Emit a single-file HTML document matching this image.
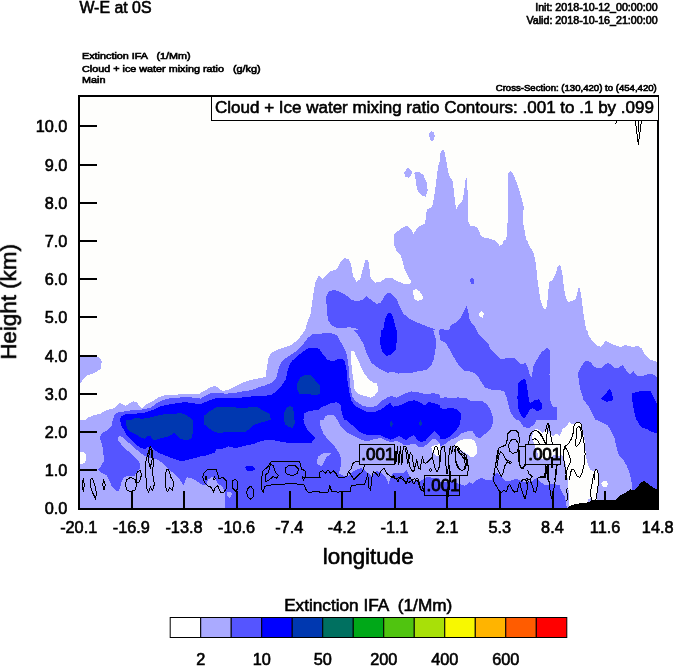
<!DOCTYPE html>
<html>
<head>
<meta charset="utf-8">
<title>W-E at 0S</title>
<style>
html,body{margin:0;padding:0;background:#fff;}
body{width:674px;height:667px;position:relative;overflow:hidden;font-family:"Liberation Sans",sans-serif;color:#000;}
svg{position:absolute;left:0;top:0;display:block;will-change:transform;}
svg text{font-family:"Liberation Sans",sans-serif;fill:#000;stroke:#000;stroke-width:0.6px;}
</style>
</head>
<body>
<svg width="674" height="667" viewBox="0 0 674 667">
<defs>
<clipPath id="pc"><rect x="80" y="97" width="577" height="411"/></clipPath>
<clipPath id="c0"><rect x="80" y="420" width="120" height="90"/></clipPath>
<clipPath id="c1"><rect x="200" y="420" width="120" height="90"/></clipPath>
<clipPath id="c2"><rect x="320" y="420" width="120" height="90"/></clipPath>
<clipPath id="c3"><rect x="440" y="420" width="120" height="90"/></clipPath>
<clipPath id="c4"><rect x="560" y="420" width="100" height="90"/></clipPath>
<clipPath id="c5"><rect x="80" y="330" width="120" height="90"/></clipPath>
<clipPath id="c6"><rect x="200" y="330" width="120" height="90"/></clipPath>
<clipPath id="c7"><rect x="320" y="330" width="120" height="90"/></clipPath>
<clipPath id="c8"><rect x="440" y="330" width="120" height="90"/></clipPath>
<clipPath id="c9"><rect x="560" y="330" width="100" height="90"/></clipPath>
<clipPath id="c10"><rect x="200" y="240" width="120" height="90"/></clipPath>
<clipPath id="c11"><rect x="320" y="240" width="120" height="90"/></clipPath>
<clipPath id="c12"><rect x="440" y="240" width="120" height="90"/></clipPath>
<clipPath id="c13"><rect x="560" y="240" width="100" height="90"/></clipPath>
<clipPath id="c14"><rect x="320" y="150" width="120" height="90"/></clipPath>
<clipPath id="c15"><rect x="440" y="150" width="120" height="90"/></clipPath>
<clipPath id="c16"><rect x="320" y="97" width="120" height="53"/></clipPath>
</defs>
<g id="fills" shape-rendering="crispEdges" clip-path="url(#pc)">
<rect x="80" y="97" width="578" height="412" fill="#fefefc"/>
<g clip-path="url(#c0)">
<rect x="80" y="420" width="120" height="90" fill="#aaaaff"/>
<polygon fill="#fefefc" points="79.1,452.0 83.6,452.4 85.9,454.7 86.2,458.3 85.0,462.7 81.8,464.0 79.1,463.6"/>
<polygon fill="#5555ff" points="112.9,419.1 111.7,426.2 106.7,430.7 102.3,432.8 99.6,436.9 101.7,443.1 103.1,450.3 104.0,460.9 101.0,465.9 97.8,469.8 101.4,472.9 106.7,475.5 109.4,480.5 112.0,486.8 115.6,490.3 118.3,491.2 120.1,487.7 121.8,480.5 124.5,477.0 129.0,475.5 134.3,476.1 137.0,472.0 139.6,469.3 140.5,465.4 137.9,460.1 133.4,455.6 127.2,450.3 121.8,444.9 118.3,440.5 117.7,437.4 120.1,436.0 123.6,437.8 128.1,442.3 133.4,446.7 138.8,451.7 144.1,455.6 151.2,458.3 156.6,459.5 161.0,461.8 166.3,467.2 172.6,472.5 177.9,477.0 181.5,482.3 183.3,485.5 185.0,481.4 186.8,477.3 191.3,477.9 195.7,480.5 201.1,483.7 201.1,419.1"/>
<polygon fill="#0000ff" points="120.1,419.1 120.9,425.3 124.5,430.7 127.2,436.0 131.6,440.5 135.2,444.0 140.5,447.6 145.0,449.4 148.5,446.7 151.2,446.3 153.9,449.4 158.3,452.9 165.5,455.6 172.6,458.3 181.5,461.3 188.6,459.5 195.7,457.7 201.1,456.5 201.1,419.1"/>
<polygon fill="#0038b0" points="126.6,419.1 125.9,423.6 127.2,428.9 131.6,432.5 137.0,435.1 141.4,437.8 145.0,438.7 147.7,436.0 150.3,435.7 152.1,438.7 154.8,440.5 159.2,438.7 162.8,437.8 167.2,436.9 170.8,435.1 174.4,432.5 177.0,436.0 180.6,439.2 186.8,439.9 191.3,439.2 192.5,434.2 193.0,427.1 193.0,419.1"/>
</g>
<g clip-path="url(#c1)">
<rect x="200" y="420" width="120" height="90" fill="#5555ff"/>
<polygon fill="#aaaaff" points="199.1,482.7 203.6,485.5 206.2,485.0 208.0,479.6 211.6,477.0 215.1,478.8 217.8,483.2 221.7,486.2 224.9,491.2 225.3,510.8 199.1,510.8"/>
<polygon fill="#aaaaff" points="226.7,492.1 231.2,492.1 232.0,494.8 229.4,498.0 226.7,495.7"/>
<polygon fill="#aaaaff" points="321.1,455.6 318.4,456.5 317.1,460.1 317.5,463.6 319.3,465.4 321.1,465.4"/>
<polygon fill="#0000ff" points="199.1,456.5 205.3,455.6 210.7,453.8 215.1,452.9 216.0,449.4 223.1,448.5 228.5,446.3 235.6,448.1 244.5,445.8 253.4,444.0 260.5,441.4 265.9,439.9 274.8,440.5 283.7,442.3 292.6,443.1 303.3,443.5 311.3,442.8 315.7,437.8 312.2,435.1 307.7,430.7 305.0,425.3 303.3,419.1 199.1,419.1"/>
<polygon fill="#0000ff" points="244.5,467.2 248.1,465.9 252.5,466.3 255.5,469.0 252.5,470.7 247.2,470.7"/>
<polygon fill="#0038b0" points="203.6,419.1 204.5,424.5 208.0,428.0 214.2,431.6 219.6,433.4 224.9,432.1 235.6,431.6 244.5,432.5 249.8,428.9 253.4,425.0 260.5,422.7 267.7,420.9 269.4,419.1"/>
<polygon fill="#0038b0" points="283.7,419.1 285.5,424.5 289.0,427.1 292.6,428.0 294.4,424.5 295.2,419.1"/>
</g>
<g clip-path="url(#c2)">
<rect x="320" y="420" width="120" height="90" fill="#5555ff"/>
<polygon fill="#aaaaff" points="318.0,422.0 322.0,418.0 327.4,414.4 334.0,414.0 337.4,417.4 338.7,422.7 342.0,428.0 347.4,432.7 354.0,436.0 360.7,439.4 367.4,441.4 373.4,439.5 380.5,438.0 385.9,440.5 391.2,442.0 396.5,441.0 400.0,442.3 404.7,445.3 409.5,444.7 414.2,443.5 419.0,447.0 423.7,446.5 428.5,443.5 432.6,438.7 435.6,438.7 440.4,443.5 441.0,444.0 441.0,478.7 426.8,477.0 424.1,478.7 419.7,481.4 412.6,480.5 409.0,475.2 406.3,469.8 402.8,473.4 398.3,472.5 393.0,473.4 390.3,478.7 388.5,484.0 385.9,477.0 381.4,473.4 377.0,470.7 371.6,476.0 365.4,470.7 361.8,468.0 355.6,469.8 351.2,473.4 346.7,477.0 338.7,473.4 340.7,466.8 341.4,460.0 340.0,454.7 336.7,449.4 332.7,444.0 327.4,438.7 323.4,433.4 320.7,426.7"/>
<polygon fill="#aaaaff" points="317.3,458.8 320.7,454.7 324.7,452.7 330.7,453.4 328.7,455.4 326.0,457.4 324.0,462.8 322.0,465.4 319.3,466.1 317.3,462.8"/>
<polygon fill="#fefefc" points="431.3,447.1 434.8,444.9 441.1,444.0 441.1,456.5 435.7,455.6 432.2,452.0"/>
<polygon fill="#0000ff" points="344.9,419.1 349.9,423.4 355.4,427.5 359.5,431.8 364.7,434.2 370.0,435.3 375.2,435.3 380.5,435.0 385.0,437.4 390.3,439.6 394.8,438.2 398.3,436.4 399.9,436.4 406.0,440.5 409.5,436.9 414.2,435.1 417.7,440.5 421.3,442.3 425.6,440.5 429.7,435.8 434.5,430.5 438.0,434.1 441.6,438.2 441.6,419.1"/>
<polygon fill="#0038b0" points="391.2,421.0 392.8,423.0 392.2,426.5 390.5,426.5 389.8,423.5"/>
<polygon fill="#0038b0" points="420.4,420.0 422.0,422.5 421.4,425.5 419.6,425.5 419.0,422.5"/>
</g>
<g clip-path="url(#c3)">
<rect x="440" y="420" width="120" height="90" fill="#aaaaff"/>
<polygon fill="#5555ff" points="439.1,447.1 445.3,444.0 450.7,439.6 456.0,437.8 461.4,433.4 466.7,431.6 472.0,430.7 475.6,436.0 480.1,438.7 483.6,435.1 487.2,432.5 490.7,428.9 492.5,423.6 493.4,419.1 439.1,419.1"/>
<polygon fill="#5555ff" points="518.3,419.1 523.7,427.1 529.0,428.0 534.4,424.5 537.0,419.1"/>
<polygon fill="#0000ff" points="439.1,419.1 460.5,419.1 459.6,425.3 456.0,430.7 450.7,436.0 445.3,438.7 439.1,439.6"/>
<polygon fill="#fefefc" points="454.6,444.6 457.8,441.4 462.3,439.6 468.5,438.9 473.5,439.9 476.1,444.0 477.4,449.4 476.5,453.8 473.8,456.5 470.6,457.0 466.7,453.8 461.4,450.3 456.9,449.4"/>
<polygon fill="#fefefc" points="531.7,438.5 532.5,434.7 534.0,430.2 536.2,428.4 538.5,429.5 540.7,431.7 543.0,433.2 544.5,431.0 546.7,430.2 549.0,432.5 550.9,434.7 552.7,436.2 555.0,434.4 557.2,433.6 559.7,436.5 561.2,432.5 562.7,428.7 565.0,427.2 567.2,425.0 569.7,422.1 572.0,423.9 574.7,424.5 577.0,422.8 580.0,422.5 582.2,429.0 584.5,440.0 585.2,447.5 586.0,455.0 586.7,460.2 588.2,465.5 590.5,470.0 593.5,471.5 595.0,470.0 596.5,469.2 598.0,471.5 598.7,478.0 598.5,485.0 597.6,491.2 596.7,500.0 590.0,503.0 577.0,504.5 570.0,507.0 569.0,506.0 568.8,500.0 568.5,490.0 568.0,480.0 566.9,475.0 566.1,467.0 565.0,461.0 563.5,457.2 561.2,455.0 557.5,456.5 555.7,455.0 553.5,455.0 550.5,458.0 547.5,458.7 544.5,458.0 542.2,459.5 540.0,458.0 538.5,456.5 537.7,453.5 537.0,450.5 535.5,447.5 534.7,444.5 533.2,441.5"/>
<polygon fill="#5555ff" points="439.1,481.4 447.1,482.3 454.2,481.4 459.6,484.1 464.9,485.9 469.4,482.3 472.9,484.1 477.4,479.6 481.8,477.9 486.3,480.5 491.6,479.6 493.4,475.2 497.0,472.5 501.4,477.0 505.9,481.4 511.2,480.5 516.6,478.8 521.9,481.4 527.2,482.3 532.6,480.5 537.0,477.9 539.7,481.4 545.0,485.0 552.2,484.1 561.1,485.0 561.1,510.8 439.1,510.8"/>
</g>
<g clip-path="url(#c4)">
<rect x="560" y="420" width="100" height="90" fill="#aaaaff"/>
<polygon fill="#fefefc" points="531.7,438.5 532.5,434.7 534.0,430.2 536.2,428.4 538.5,429.5 540.7,431.7 543.0,433.2 544.5,431.0 546.7,430.2 549.0,432.5 550.9,434.7 552.7,436.2 555.0,434.4 557.2,433.6 559.7,436.5 561.2,432.5 562.7,428.7 565.0,427.2 567.2,425.0 569.7,422.1 572.0,423.9 574.7,424.5 577.0,422.8 580.0,422.5 582.2,429.0 584.5,440.0 585.2,447.5 586.0,455.0 586.7,460.2 588.2,465.5 590.5,470.0 593.5,471.5 595.0,470.0 596.5,469.2 598.0,471.5 598.7,478.0 598.5,485.0 597.6,491.2 596.7,500.0 590.0,503.0 577.0,504.5 570.0,507.0 569.0,506.0 568.8,500.0 568.5,490.0 568.0,480.0 566.9,475.0 566.1,467.0 565.0,461.0 563.5,457.2 561.2,455.0 557.5,456.5 555.7,455.0 553.5,455.0 550.5,458.0 547.5,458.7 544.5,458.0 542.2,459.5 540.0,458.0 538.5,456.5 537.7,453.5 537.0,450.5 535.5,447.5 534.7,444.5 533.2,441.5"/>
<polygon fill="#fefefc" points="601.2,483.2 603.8,480.9 606.5,481.4 608.3,484.1 606.5,486.8 603.0,486.8"/>
<polygon fill="#aaaaff" points="587.0,502.8 588.5,499.5 591.0,498.0 591.5,501.5 589.0,503.5"/>
<polygon fill="#5555ff" points="595.8,419.1 602.1,422.7 607.4,425.3 611.0,430.7 614.5,437.8 616.3,446.7 619.0,455.6 623.4,460.1 627.0,466.3 629.7,473.4 631.4,480.5 632.3,489.4 632.3,494.8 660.8,494.8 660.8,419.1"/>
<polygon fill="#0000ff" points="636.8,419.1 639.5,424.5 642.1,428.0 646.6,428.9 651.0,431.6 656.4,433.4 660.8,433.4 660.8,419.1"/>
<polygon fill="#5555ff" points="553.1,480.5 557.6,484.1 561.1,490.3 564.7,496.6 566.1,501.9 566.8,508.1 553.1,509.0"/>
<polygon fill="#000000" points="564.7,509.0 567.4,507.6 571.8,505.1 577.1,503.7 586.0,502.8 594.9,500.1 602.1,500.1 615.4,499.8 620.8,494.8 625.2,493.0 630.6,489.4 634.1,490.3 637.7,486.8 641.2,482.3 643.9,480.9 647.5,483.2 651.9,486.8 657.3,489.4 660.8,490.3 660.8,510.8 564.7,510.8"/>
<polygon fill="#000000" points="603.7,491.2 605.8,491.2 605.8,500.5 603.7,500.5"/>
</g>
<g clip-path="url(#c5)">
<rect x="80" y="330" width="120" height="90" fill="#fefefc"/>
<polygon fill="#aaaaff" points="79.1,354.9 80.0,356.7 96.9,356.7 100.5,358.5 101.7,361.2 101.0,368.3 96.9,371.8 92.5,373.6 87.1,375.4 83.6,379.0 80.0,383.4 79.1,383.4"/>
<polygon fill="#aaaaff" points="85.3,419.9 88.9,417.2 94.2,415.1 100.5,413.7 104.9,411.0 109.4,409.2 113.8,408.3 116.5,405.7 119.5,403.0 122.7,404.4 125.9,405.7 129.8,403.0 133.4,401.2 137.0,402.6 139.6,406.6 142.3,408.3 146.8,403.9 153.0,401.2 158.3,397.3 163.7,395.5 172.6,395.0 181.5,394.1 190.4,393.7 201.1,394.1 201.1,420.8 85.3,420.8"/>
<polygon fill="#5555ff" points="112.9,419.9 114.7,414.6 118.3,412.3 124.5,411.5 131.6,410.1 138.8,410.1 144.1,409.2 151.2,407.4 156.6,403.3 161.9,400.3 169.0,398.5 177.9,397.7 186.8,396.8 193.9,397.7 201.1,398.5 201.1,420.8 112.9,420.8"/>
<polygon fill="#0000ff" points="120.1,419.9 120.9,416.3 126.3,414.0 133.4,413.7 140.5,413.3 145.9,412.3 153.0,409.8 160.1,406.6 167.2,404.8 176.1,403.3 185.0,402.1 193.9,403.3 201.1,404.8 201.1,420.8 120.1,420.8"/>
<polygon fill="#0038b0" points="131.6,419.9 135.2,418.1 142.3,418.7 147.7,418.1 154.8,416.3 161.9,414.6 172.6,413.7 181.5,413.3 186.8,415.1 190.4,418.1 192.2,419.9 192.2,420.8 131.6,420.8"/>
</g>
<g clip-path="url(#c6)">
<rect x="200" y="330" width="120" height="90" fill="#fefefc"/>
<polygon fill="#aaaaff" points="199.1,393.7 205.3,390.5 210.7,387.0 215.1,386.1 218.7,387.9 222.3,391.1 228.5,389.6 235.6,386.1 242.7,382.5 251.6,379.8 260.5,378.1 265.9,376.6 266.8,367.4 268.5,358.5 271.2,353.1 276.6,349.9 283.7,347.8 290.8,345.1 297.0,340.7 301.5,335.3 304.1,330.9 306.8,329.1 321.1,329.1 321.1,420.8 199.1,420.8"/>
<polygon fill="#5555ff" points="199.1,399.4 205.3,395.9 210.7,393.2 217.8,392.7 224.9,393.7 233.8,393.2 242.7,391.4 251.6,390.2 258.8,387.3 265.9,385.2 273.0,382.0 276.6,377.2 278.3,369.2 281.0,362.9 285.5,358.5 290.8,354.9 297.0,350.5 303.3,344.2 307.7,338.0 312.2,334.5 321.1,333.6 321.1,420.8 199.1,420.8"/>
<polygon fill="#0000ff" points="199.1,404.8 205.3,402.1 212.5,399.1 219.6,397.7 226.7,398.5 235.6,398.0 244.5,397.3 253.4,396.2 262.3,396.2 271.2,395.0 276.6,391.4 281.9,385.2 285.5,379.8 287.2,372.7 289.0,365.6 292.6,360.3 297.9,355.8 303.3,351.4 308.6,348.2 315.7,347.8 321.1,349.2 321.1,420.8 199.1,420.8"/>
<polygon fill="#0038b0" points="203.6,420.8 204.5,415.5 208.9,411.9 216.0,407.4 223.1,406.9 232.0,406.6 238.3,408.0 244.5,408.3 251.6,406.6 257.0,406.9 262.3,410.1 269.4,413.7 271.2,420.8"/>
<polygon fill="#0038b0" points="297.0,388.8 297.6,382.5 300.6,377.2 305.0,374.9 311.3,375.4 314.8,379.8 317.5,383.4 321.1,387.0 321.1,394.1 313.9,395.0 306.8,393.7 299.7,394.1"/>
<polygon fill="#0038b0" points="283.7,420.8 284.0,413.7 286.3,408.3 289.9,405.7 292.6,407.4 294.4,413.7 293.5,420.8"/>
<polygon fill="#5555ff" points="303.3,420.8 304.1,413.7 308.6,411.0 315.7,410.1 321.1,409.2 321.1,420.8"/>
</g>
<g clip-path="url(#c7)">
<rect x="320" y="330" width="120" height="90" fill="#aaaaff"/>
<polygon fill="#5555ff" points="352.9,329.1 358.3,335.3 363.6,344.2 367.2,354.9 371.6,362.9 378.8,368.3 387.7,372.7 393.0,371.8 398.3,373.6 405.5,372.7 412.6,372.7 419.7,370.9 426.8,370.1 431.3,365.6 433.9,358.5 435.7,347.8 435.7,338.9 433.0,329.1"/>
<polygon fill="#5555ff" points="438.4,329.1 438.9,333.6 441.1,337.5 441.1,329.1"/>
<polygon fill="#fefefc" points="351.2,351.4 353.8,351.0 356.5,356.7 360.1,364.7 364.5,373.6 369.0,379.8 373.4,382.5 377.0,383.4 378.4,390.5 374.3,395.9 370.7,397.7 364.5,395.9 358.3,394.1 354.7,390.5 353.8,381.6 352.0,370.9 351.2,360.3"/>
<polygon fill="#5555ff" points="319.1,333.9 327.1,332.7 334.2,333.9 337.8,336.2 339.9,340.7 343.1,346.0 345.8,351.4 347.1,356.7 348.5,365.6 349.4,376.3 350.3,387.0 352.0,395.9 355.6,401.2 362.7,405.7 369.8,407.4 377.0,405.7 381.4,401.2 386.8,397.7 391.2,395.9 396.6,397.7 403.7,394.1 410.8,391.4 417.9,392.3 425.0,394.1 433.9,393.2 441.1,395.0 441.1,420.8 319.1,420.8"/>
<polygon fill="#0000ff" points="319.1,349.6 323.6,354.9 327.1,359.4 332.5,361.2 337.8,359.4 342.3,358.5 344.9,362.0 346.7,370.9 347.6,381.6 349.4,392.3 351.2,400.3 354.7,405.7 360.9,409.2 368.1,412.3 375.2,411.9 381.4,409.2 385.9,405.7 390.3,403.0 393.0,406.6 398.3,405.7 403.7,403.9 409.0,401.2 414.4,400.3 419.7,402.1 425.0,405.7 428.6,402.1 433.9,403.0 441.1,405.7 441.1,420.8 319.1,420.8"/>
<polygon fill="#5555ff" points="319.1,408.3 325.3,405.7 331.6,403.0 336.9,402.1 340.5,404.8 341.4,410.1 343.1,417.2 344.9,420.8 319.1,420.8"/>
<polygon fill="#aaaaff" points="323.6,420.8 325.3,416.3 329.8,414.6 334.2,415.5 337.8,420.8"/>
<polygon fill="#0000ff" points="381.4,329.1 380.5,337.1 380.2,344.2 382.3,351.4 386.8,355.8 392.1,354.0 395.7,349.6 396.9,340.7 397.4,329.1"/>
</g>
<g clip-path="url(#c8)">
<rect x="440" y="330" width="120" height="90" fill="#aaaaff"/>
<polygon fill="#5555ff" points="439.1,329.1 476.5,329.1 478.3,333.6 483.6,338.9 488.1,343.4 490.7,349.6 495.2,354.0 501.4,359.4 507.7,357.6 513.9,357.6 517.4,361.2 521.0,364.7 525.5,362.9 528.1,368.3 529.9,375.4 531.7,377.2 533.5,365.6 537.0,359.4 541.5,352.3 546.8,347.8 550.4,350.5 550.0,360.3 549.5,374.5 549.5,388.8 550.4,401.2 553.0,406.6 556.6,406.6 557.5,413.7 556.6,420.8 516.6,420.8 513.9,417.2 510.3,411.9 508.5,404.8 506.8,397.7 504.1,391.4 498.8,389.6 491.6,389.6 485.4,387.9 480.9,381.6 477.4,375.4 472.0,371.8 464.9,370.9 459.6,366.5 455.1,359.4 450.7,351.4 447.1,345.1 443.6,341.6 439.1,339.8"/>
<polygon fill="#5555ff" points="439.1,398.5 445.3,397.3 452.5,398.5 457.8,397.3 466.7,398.5 471.2,401.2 482.7,401.2 487.2,404.8 490.7,410.1 492.5,415.5 493.1,420.8 439.1,420.8"/>
<polygon fill="#0000ff" points="518.3,383.4 521.9,379.8 525.1,379.0 526.9,385.2 528.1,394.1 529.0,401.2 530.8,403.0 534.4,400.3 538.8,399.4 541.5,403.0 541.5,409.2 537.9,411.5 532.6,408.3 529.9,409.2 527.2,414.6 523.7,418.7 521.0,415.5 518.3,408.3 517.4,397.7"/>
<polygon fill="#0000ff" points="439.1,408.3 445.3,408.7 452.5,408.0 456.9,409.2 460.5,412.8 461.4,417.2 461.0,420.8 439.1,420.8"/>
</g>
<g clip-path="url(#c9)">
<rect x="560" y="330" width="100" height="90" fill="#aaaaff"/>
<polygon fill="#fefefc" points="586.9,329.1 588.7,335.3 592.3,340.7 597.6,346.0 601.2,346.9 605.6,340.7 609.2,342.5 614.5,345.1 620.8,346.9 625.2,345.1 632.3,346.9 637.7,346.0 642.1,348.7 644.8,354.9 650.1,359.4 657.3,362.0 660.8,362.0 660.8,329.1"/>
<polygon fill="#5555ff" points="578.0,372.7 581.6,365.6 586.0,360.6 590.5,362.0 594.1,366.5 597.6,368.3 602.1,367.4 607.4,362.9 611.0,364.7 614.5,368.3 618.1,368.3 622.5,364.7 626.1,370.1 629.7,374.5 633.2,370.9 636.8,375.4 641.2,376.3 646.6,374.5 651.9,373.6 657.3,377.2 660.8,378.1 660.8,420.8 595.8,420.8 592.3,413.7 588.7,406.6 583.4,399.4 580.7,390.5 578.9,381.6"/>
<polygon fill="#5555ff" points="553.1,405.7 556.7,405.7 556.7,415.5 553.1,415.5"/>
<polygon fill="#0000ff" points="601.2,398.5 605.6,394.1 609.2,388.8 611.3,391.4 612.8,396.8 612.4,401.2 606.5,401.6 603.0,400.3"/>
<polygon fill="#0000ff" points="632.3,393.2 639.5,391.4 646.6,390.9 651.0,391.4 653.7,397.7 657.3,404.8 660.8,408.3 660.8,420.8 636.8,420.8 634.1,411.9 632.3,401.2"/>
</g>
<g clip-path="url(#c10)">
<rect x="200" y="240" width="120" height="90" fill="#fefefc"/>
<polygon fill="#aaaaff" points="305.0,330.8 306.8,323.7 310.4,314.8 312.2,302.3 313.9,289.8 315.7,280.9 318.4,276.5 321.1,275.6 321.1,330.8"/>
</g>
<g clip-path="url(#c11)">
<rect x="320" y="240" width="120" height="90" fill="#fefefc"/>
<polygon fill="#aaaaff" points="319.1,275.6 322.7,279.2 327.1,274.7 329.8,271.2 336.9,269.4 340.5,262.3 344.0,258.3 348.5,258.7 351.2,264.9 352.9,275.6 356.5,281.8 360.1,279.2 362.7,269.4 365.4,260.5 368.1,259.6 369.5,268.5 370.7,278.3 375.2,282.7 380.5,281.8 385.9,277.7 391.2,277.7 396.6,280.9 403.7,283.6 409.9,284.2 411.7,281.8 408.1,276.5 404.6,269.4 402.8,261.4 401.0,256.0 396.6,251.6 394.4,245.3 393.9,239.1 441.1,239.1 441.1,330.8 319.1,330.8"/>
<polygon fill="#fefefc" points="412.9,290.7 416.1,289.0 419.7,291.6 422.9,296.1 422.4,299.6 417.9,300.9 414.0,298.8"/>
<polygon fill="#5555ff" points="326.2,297.0 328.9,291.6 333.4,289.8 338.7,291.3 344.9,294.3 351.2,299.6 357.4,301.4 362.7,299.6 366.6,296.1 370.7,299.6 376.1,303.7 380.5,303.2 384.1,297.0 387.7,292.5 391.2,293.4 396.6,299.6 400.1,306.8 403.7,313.9 409.0,318.3 417.9,322.8 426.8,326.3 433.9,329.0 437.5,330.8 360.9,330.8 355.6,328.1 348.5,327.2 343.1,328.1 337.8,328.5 331.6,325.5 328.0,320.1 326.8,311.2"/>
<polygon fill="#0000ff" points="383.2,330.8 384.1,323.7 385.9,316.6 388.5,312.6 391.2,313.0 393.3,318.3 395.1,325.5 396.2,330.8"/>
</g>
<g clip-path="url(#c12)">
<rect x="440" y="240" width="120" height="90" fill="#aaaaff"/>
<polygon fill="#fefefc" points="493.4,239.1 496.1,241.8 499.6,245.7 502.3,244.5 504.4,239.1"/>
<polygon fill="#fefefc" points="526.9,239.1 529.0,245.3 533.5,252.5 535.8,263.1 537.0,275.6 538.8,289.8 540.6,300.5 543.3,307.7 545.0,309.8 546.8,305.9 548.2,293.4 549.0,282.7 552.2,280.1 555.7,273.8 557.5,266.7 561.1,264.0 561.1,239.1"/>
<polygon fill="#fefefc" points="478.3,313.9 481.8,310.9 484.2,313.3 482.7,318.0 480.1,316.9"/>
<polygon fill="#5555ff" points="469.9,280.1 471.7,277.7 473.8,278.8 473.5,283.6 471.2,284.5"/>
<polygon fill="#5555ff" points="448.9,330.8 450.7,325.5 456.0,322.3 460.5,318.3 464.0,311.2 466.3,305.9 468.1,310.3 469.4,318.3 472.0,323.7 475.6,327.6 476.5,330.8"/>
<polygon fill="#5555ff" points="439.1,328.7 443.6,328.7 443.6,330.8 439.1,330.8"/>
</g>
<g clip-path="url(#c13)">
<rect x="560" y="240" width="100" height="90" fill="#fefefc"/>
<polygon fill="#aaaaff" points="553.1,278.3 555.8,273.8 558.5,266.7 560.2,265.3 562.0,271.2 563.8,286.3 565.6,297.0 568.2,302.3 571.8,300.9 575.4,299.6 577.1,293.4 578.6,287.2 579.8,288.1 581.6,298.8 583.4,313.0 585.2,323.7 586.4,330.8 553.1,330.8"/>
</g>
<g clip-path="url(#c14)">
<rect x="320" y="150" width="120" height="90" fill="#fefefc"/>
<polygon fill="#aaaaff" points="404.0,173.1 407.2,167.8 409.9,168.7 412.6,173.1 409.0,177.6 405.5,177.1"/>
<polygon fill="#aaaaff" points="414.0,172.8 418.8,171.7 423.3,174.9 426.5,182.0 427.7,190.1 425.9,196.6 422.9,196.3 417.9,191.8 416.1,183.8 415.2,176.7"/>
<polygon fill="#aaaaff" points="393.9,240.8 394.4,233.7 399.2,230.1 403.7,226.6 408.1,226.2 410.8,229.2 413.5,233.7 417.0,228.3 420.6,225.7 424.7,223.9 425.9,217.7 426.8,209.6 432.2,207.0 433.9,198.1 435.7,185.6 437.5,171.4 438.9,162.5 441.1,160.7 441.1,240.8"/>
</g>
<g clip-path="url(#c15)">
<rect x="440" y="150" width="120" height="90" fill="#fefefc"/>
<polygon fill="#aaaaff" points="439.1,155.3 441.8,150.9 443.6,149.1 445.3,155.3 447.1,166.0 448.9,174.9 452.5,181.2 453.9,190.9 455.1,203.4 456.4,208.8 458.7,205.2 462.3,200.7 464.0,192.7 465.3,180.3 466.7,178.1 467.6,190.9 468.1,221.2 470.3,225.7 475.6,226.6 478.3,229.2 480.9,235.5 484.5,238.1 491.6,238.7 493.4,240.8 439.1,240.8"/>
<polygon fill="#aaaaff" points="505.9,240.8 507.3,231.9 508.0,203.4 508.2,173.1 510.3,171.0 513.0,174.0 516.6,182.0 519.2,190.1 521.9,199.8 523.7,207.0 522.8,221.2 524.6,230.1 526.3,240.8"/>
</g>
<g clip-path="url(#c16)">
<rect x="320" y="97" width="120" height="53" fill="#fefefc"/>
<polygon fill="#aaaaff" points="429.0,134.0 431.0,131.0 433.5,132.0 434.8,136.0 434.0,140.0 432.0,141.5 430.0,139.0"/>
</g>
</g>
<g id="lines" clip-path="url(#pc)" fill="none" stroke="#000" stroke-width="1" stroke-linejoin="round" shape-rendering="crispEdges">
<path d="M83.2 478.8 L82.1 484.1 L83.2 491.2 L84.3 485.0 Z"/>
<path d="M91.0 478.8 L90.3 485.9 L92.8 493.0 L95.7 499.2 L96.4 493.0 L94.6 484.1 L92.5 478.8 Z"/>
<path d="M103.7 479.6 L102.6 485.0 L104.0 489.8 L105.3 485.0 Z"/>
<path d="M126.6 479.6 L130.7 477.3 L135.2 479.6 L136.6 485.0 L134.8 490.3 L130.7 491.6 L126.6 489.8 L125.4 484.4 Z"/>
<path d="M137.3 471.6 L140.5 470.7 L141.4 475.2 L139.6 481.4 L137.0 483.2 L136.1 477.9 Z"/>
<path d="M147.3 455.6 L150.3 446.7 L152.6 451.2 L153.3 462.7 L152.6 473.4 L154.4 484.1 L152.6 490.3 L150.3 486.8 L148.5 492.1 L146.2 486.8 L145.9 473.4 L145.5 462.7 Z"/>
<path d="M149.4 450.3 L148.5 460.9 L150.3 468.1 L152.1 459.2 L151.2 449.4 Z"/>
<path d="M166.3 469.8 L168.7 469.8 L170.8 477.0 L173.5 482.3 L172.6 490.3 L169.9 487.7 L167.2 492.1 L165.5 485.9 L165.5 477.0 Z"/>
<path d="M203.6 473.4 L207.1 469.8 L216.0 469.5 L217.8 473.4 L218.7 478.8 L223.1 477.3 L226.7 481.4 L226.7 487.7 L224.0 492.1 L220.5 492.1 L217.8 485.9 L215.1 487.7 L213.4 492.1 L210.7 486.8 L208.0 485.9 L204.5 482.3 L202.7 477.0 Z"/>
<path d="M205.7 476.1 L205.3 479.6 L206.8 479.6 L206.4 476.1 Z"/>
<path d="M214.2 476.1 L213.9 479.6 L215.3 478.8 Z"/>
<path d="M232.9 480.5 L235.6 479.1 L237.7 482.3 L237.7 488.5 L235.6 491.2 L232.9 488.5 L232.0 484.1 Z"/>
<path d="M247.7 488.5 L250.7 486.2 L253.4 489.4 L253.4 496.6 L250.7 499.2 L247.7 496.6 L246.6 492.1 Z"/>
<path d="M263.2 470.7 L268.5 466.3 L271.2 461.3 L299.7 461.3 L301.5 469.0 L305.0 470.7 L305.9 475.2 L303.3 480.5 L302.4 477.0 L306.8 477.9 L312.2 477.0 L321.1 477.0"/>
<path d="M321.1 492.1 L313.9 491.6 L308.6 492.6 L305.9 489.4 L304.1 485.0 L298.8 484.1 L289.0 483.7 L280.1 484.4 L271.2 485.0 L265.0 486.2 L263.2 492.1 L261.4 489.4 L261.4 480.5 L262.3 473.4 L263.2 470.7"/>
<path d="M270.3 464.5 L273.0 465.4 L275.7 472.5 L278.3 475.2 L276.6 478.4 L273.0 476.6 L268.5 480.5 L265.9 481.4 L265.0 475.2 L268.5 472.5 L269.4 468.1 Z"/>
<path d="M285.5 468.1 L289.0 465.4 L295.2 465.4 L298.3 469.0 L297.6 473.4 L292.6 475.5 L287.2 474.3 L285.1 471.6 Z"/>
<path d="M319.1 477.3 L320.0 471.6 L322.7 470.7 L325.3 473.4 L328.0 469.8 L330.7 473.4 L333.4 470.7 L336.0 473.4 L337.8 477.0 L343.1 477.3 L346.7 476.6 L348.5 471.6 L351.2 469.0 L352.9 463.6 L355.6 461.3 L359.5 461.3"/>
<path d="M319.1 492.1 L328.0 492.1 L329.8 485.9 L331.6 491.2 L337.8 492.1 L350.3 491.2 L351.2 485.9 L355.6 485.0 L364.5 484.4 L366.6 478.8 L367.7 473.4 L369.0 487.7 L370.7 490.3 L371.6 478.8 L373.4 471.6 L376.1 473.4 L378.8 477.0 L380.5 471.6 L384.1 468.1 L386.8 473.4 L391.2 477.0 L396.6 478.8 L399.2 477.0 L403.7 480.5 L409.0 482.3 L414.4 478.8 L417.9 481.4 L420.6 489.4 L423.3 491.2 L425.0 484.1"/>
<path d="M348.5 471.6 L351.2 475.2 L353.8 479.6 L356.5 477.0 L360.1 473.4 L362.7 471.6 L363.6 468.1 L365.4 464.5"/>
<path d="M359.5 444.5 L394.5 444.5 L394.5 464.5 L359.5 464.5 Z"/>
<path d="M424.5 475.5 L459.5 475.5 L459.5 495.5 L424.5 495.5 Z"/>
<path d="M525.5 444.5 L560.5 444.5 L560.5 464.5 L525.5 464.5 Z"/>
<path d="M394.7 446.9 L395.9 463.5 L397.4 446.9 L398.9 464.7 L400.4 446.9 L401.9 464.7 L403.3 446.3 L406.0 446.9 L407.8 452.8 L409.6 465.9 L412.0 470.6 L413.7 471.8 L415.5 464.7 L416.7 459.9 L418.5 468.2 L420.3 469.4 L421.5 461.1 L422.6 457.0 L423.8 462.3 L425.6 463.5 L429.2 460.5 L432.1 457.6 L433.3 451.6 L435.1 446.9 L436.9 446.3 L438.7 452.8 L439.9 462.3 L438.7 469.4 L436.9 471.8 L435.1 468.2 L433.3 461.1 L432.1 457.6"/>
<path d="M440.4 462.3 L441.0 450.4 L442.2 446.9 L444.0 446.3 L445.2 452.8 L445.8 464.7 L447.0 474.2 L448.2 468.2 L448.8 458.7 L449.3 450.4 L450.5 446.9 L451.7 454.0 L452.9 446.3 L454.7 445.7 L457.1 448.1 L458.8 452.8 L461.2 455.2 L464.2 458.7 L465.4 464.7 L464.2 469.4 L462.4 470.6 L460.0 469.4 L457.7 465.9 L455.9 461.1 L455.3 455.2 L454.7 449.2"/>
<path d="M458.2 446.9 L461.2 451.6 L466.0 455.2 L467.7 461.1 L468.3 469.4 L467.2 475.4 L459.1 475.9"/>
<path d="M430.4 468.5 L431.5 470.0 L430.4 471.6 L429.2 470.0 Z"/>
<path d="M390.0 476.5 L393.6 475.9 L395.9 478.9 L398.3 481.9 L399.5 477.1 L401.9 476.5 L404.2 480.1 L406.0 483.7 L407.8 478.9 L410.2 477.7 L412.6 482.5 L414.3 483.7 L416.1 478.9 L417.9 478.3 L419.7 484.9 L421.5 490.8 L422.6 487.2 L424.4 482.5"/>
<path d="M449.1 464.7 L449.7 476.5 L449.1 488.4 L448.5 496.7"/>
<path d="M449.7 464.7 L450.3 476.5 L449.7 488.4"/>
<path d="M405.4 448.1 L406.6 456.4 L407.8 463.5 L409.0 458.7 L410.2 452.8 L412.0 455.2 L413.1 462.3 L414.3 468.2"/>
<path d="M493.7 474.9 L495.5 465.4 L497.9 454.7 L499.1 447.6 L502.6 446.4 L505.6 445.2 L507.4 439.2 L508.0 433.3 L510.9 430.7 L516.3 430.9 L518.7 433.3 L519.3 440.4 L518.7 446.4 L521.0 447.0 L525.2 446.4"/>
<path d="M509.2 442.8 L511.5 439.8 L515.7 439.8 L518.1 442.8 L518.1 448.7 L516.9 452.3 L512.7 453.5 L509.8 451.1 L508.6 447.0 Z"/>
<path d="M499.1 454.7 L500.9 451.7 L502.6 453.5 L505.0 458.2 L506.8 460.6 L509.8 461.2 L511.5 462.4 L510.4 463.6 L507.4 461.8 L505.0 465.4 L503.2 472.5 L501.5 476.0 L499.7 473.7 L497.9 470.1 L496.7 467.7 L497.9 460.6 Z"/>
<path d="M518.7 446.4 L518.1 455.9 L519.3 464.2 L521.6 468.3 L524.0 466.5 L525.2 464.2"/>
<path d="M528.8 444.6 L529.3 436.9 L531.7 432.1 L535.3 430.3 L538.2 431.5 L541.2 435.7 L544.2 441.6 L546.0 444.6"/>
<path d="M531.7 440.4 L534.7 438.6 L537.7 440.4 L540.0 444.6"/>
<path d="M546.0 444.6 L547.2 432.1 L548.3 426.2 L550.0 425.0"/>
<path d="M497.8 450.0 L496.0 461.9 L494.2 473.7 L493.6 480.9 L496.0 485.6 L499.0 490.4 L501.4 492.7 L503.7 490.4 L506.7 491.5 L507.9 486.8 L509.7 484.4 L512.0 489.2 L514.4 492.1 L517.4 491.5 L518.6 485.6 L519.8 482.0 L520.9 488.0 L523.3 495.1 L525.1 498.7 L526.3 493.9 L527.5 486.8 L528.1 480.9 L526.9 478.5 L529.9 479.7 L532.2 485.6 L534.0 491.5 L535.8 492.1 L537.0 486.8 L537.6 480.9 L538.2 477.3 L541.7 477.9 L545.3 477.3 L546.5 471.4 L547.1 464.8"/>
<path d="M548.2 464.8 L548.8 479.7 L550.0 490.4 L551.2 497.5 L552.4 499.9 L553.6 490.4 L555.4 479.7 L557.2 464.8"/>
<path d="M520.9 481.5 L523.3 479.1 L526.3 480.3 L527.5 485.6"/>
<path d="M527.5 469.6 L528.7 473.7 L532.2 476.1 L529.9 479.7"/>
<path d="M519.2 450.0 L519.2 461.9 L520.9 467.8 L523.3 468.4 L525.1 465.4 L525.1 464.0"/>
<path d="M551.6 457.1 L552.2 467.8"/>
<path d="M552.2 457.1 L552.8 467.8"/>
<path d="M455.1 446.7 L457.8 446.3 L459.6 452.9 L464.0 455.6 L466.7 460.9 L465.8 468.1 L462.3 470.7 L457.8 468.1 L456.0 462.7 L455.1 454.7 Z"/>
<path d="M569.1 480.0 L570.3 474.3 L571.5 469.6 L573.8 469.6 L575.6 473.2 L577.4 476.7 L579.8 477.3 L581.5 474.3 L583.3 468.4 L584.5 462.5 L585.1 454.2 L584.5 445.9 L583.3 438.7 L582.1 430.4 L580.9 423.9 L578.6 422.1 L575.6 423.3 L573.8 426.3 L573.2 432.8 L571.5 438.7 L568.5 443.5 L564.9 446.5 L563.7 450.6 L563.1 456.5 L564.3 462.5 L565.5 469.6 L566.1 474.3 L565.5 480.0"/>
<path d="M576.8 428.1 L578.6 426.3 L580.4 428.1 L581.5 434.0 L580.9 439.9 L579.2 444.1 L577.4 445.3 L576.2 447.0 L575.6 443.5 L576.2 436.4 Z"/>
<path d="M564.9 446.5 L567.3 450.6 L569.7 456.5 L570.9 461.3 L568.5 466.0 L566.7 470.8 L566.4 480.0"/>
<path d="M545.3 431.6 L547.1 424.5 L548.3 423.3 L549.5 428.1 L551.3 438.7 L552.5 444.7"/>
<path d="M540.0 432.8 L542.4 436.4 L545.9 444.7"/>
<path d="M594.0 480.0 L594.0 474.3 L595.2 470.8 L596.7 469.4 L597.9 472.0 L598.8 480.0"/>
<path d="M547.1 464.3 L547.7 480.0"/>
<path d="M556.6 464.3 L554.8 480.0"/>
<path d="M540.0 476.7 L544.7 476.7 L545.9 464.3"/>
<path d="M551.6 464.3 L551.4 467.8"/>
<path d="M552.2 464.3 L552.0 467.8"/>
<path d="M567.4 487.7 L566.5 491.2 L567.9 496.6 L566.8 501.0"/>
<path d="M595.3 469.8 L596.7 469.0 L598.2 473.4 L598.5 482.3 L596.7 494.8 L595.8 500.1 L591.4 501.0 L590.5 491.2 L592.3 482.3 L593.5 475.2 Z"/>
<path d="M635.0 118.0 L638.3 144.5 L641.8 118.0"/>
<path d="M637.8 118.0 L638.8 132.0"/>
<path d="M615.5 124.5 L617.0 121.0"/>
<text x="361.3" y="460.2" font-size="17" style="stroke-width:0.9px">.001</text>
<text x="426.6" y="490.9" font-size="17" style="stroke-width:0.9px">.001</text>
<text x="528.2" y="460.2" font-size="17" style="stroke-width:0.9px">.001</text>
</g>
<rect x="79" y="96" width="579" height="413" fill="none" stroke="#000" stroke-width="2" shape-rendering="crispEdges"/>
<rect x="211.5" y="96.5" width="447" height="24" fill="#fff" stroke="#000" stroke-width="1" shape-rendering="crispEdges"/>
<text id="boxlab" x="215" y="112.6" font-size="17">Cloud + Ice water mixing ratio Contours: .001 to .1 by .099</text>
<g fill="#000" id="yt" shape-rendering="crispEdges"><rect x="80" y="469" width="17" height="2"/><rect x="80" y="431" width="17" height="2"/><rect x="80" y="393" width="17" height="2"/><rect x="80" y="355" width="17" height="2"/><rect x="80" y="316" width="17" height="2"/><rect x="80" y="278" width="17" height="2"/><rect x="80" y="240" width="17" height="2"/><rect x="80" y="202" width="17" height="2"/><rect x="80" y="164" width="17" height="2"/><rect x="80" y="125" width="17" height="2"/></g>
<g fill="#000" id="xt" shape-rendering="crispEdges"><rect x="131" y="491" width="2" height="17"/><rect x="183" y="491" width="2" height="17"/><rect x="236" y="491" width="2" height="17"/><rect x="289" y="491" width="2" height="17"/><rect x="341" y="491" width="2" height="17"/><rect x="394" y="491" width="2" height="17"/><rect x="446" y="491" width="2" height="17"/><rect x="499" y="491" width="2" height="17"/><rect x="552" y="491" width="2" height="17"/><rect x="604" y="491" width="2" height="17"/></g>
<g font-size="16.3" text-anchor="end" id="yl"><text x="67.4" y="514.3">0.0</text><text x="67.4" y="476.1">1.0</text><text x="67.4" y="437.9">2.0</text><text x="67.4" y="399.7">3.0</text><text x="67.4" y="361.5">4.0</text><text x="67.4" y="323.3">5.0</text><text x="67.4" y="285.1">6.0</text><text x="67.4" y="246.9">7.0</text><text x="67.4" y="208.7">8.0</text><text x="67.4" y="170.5">9.0</text><text x="67.4" y="132.3">10.0</text></g>
<g font-size="16.3" text-anchor="middle" id="xl"><text x="78.7" y="533.3">-20.1</text><text x="131.3" y="533.3">-16.9</text><text x="184.0" y="533.3">-13.8</text><text x="236.6" y="533.3">-10.6</text><text x="289.2" y="533.3">-7.4</text><text x="341.9" y="533.3">-4.2</text><text x="394.5" y="533.3">-1.1</text><text x="447.2" y="533.3">2.1</text><text x="499.8" y="533.3">5.3</text><text x="552.4" y="533.3">8.4</text><text x="605.1" y="533.3">11.6</text><text x="657.7" y="533.3">14.8</text></g>
<text id="xlab" x="368.2" y="564" font-size="22.4" text-anchor="middle">longitude</text>
<text id="ylab" transform="translate(16.1,301.9) rotate(-90)" font-size="22.4" text-anchor="middle">Height (km)</text>
<text id="title" x="79.4" y="12.7" font-size="15.9">W-E at 0S</text>
<g font-size="9" id="sm" transform="translate(82,0) scale(1.2,1)" style="stroke-width:0.45px">
<text x="0" y="59.5" xml:space="preserve">Extinction IFA   (1/Mm)</text>
<text x="0" y="71.6" xml:space="preserve">Cloud + ice water mixing ratio   (g/kg)</text>
<text x="0" y="83.5">Main</text>
</g>
<g font-size="10" text-anchor="end" id="sr" transform="translate(657.6,0) scale(1.07,1)" style="stroke-width:0.45px">
<text x="0" y="11.3">Init: 2018-10-12_00:00:00</text>
<text x="0" y="23.6">Valid: 2018-10-16_21:00:00</text>
</g>
<g font-size="8.4" text-anchor="end" id="sr2" transform="translate(656.8,0) scale(1.143,1)" style="stroke-width:0.4px">
<text x="0" y="91.5">Cross-Section: (130,420) to (454,420)</text>
</g>
<g stroke="#000" stroke-width="1" id="cb"><rect x="170.20" y="617.5" width="30.51" height="20" fill="#ffffff"/><rect x="200.71" y="617.5" width="30.51" height="20" fill="#aaaaff"/><rect x="231.22" y="617.5" width="30.51" height="20" fill="#5555ff"/><rect x="261.72" y="617.5" width="30.51" height="20" fill="#0000ff"/><rect x="292.23" y="617.5" width="30.51" height="20" fill="#0038b0"/><rect x="322.74" y="617.5" width="30.51" height="20" fill="#007060"/><rect x="353.25" y="617.5" width="30.51" height="20" fill="#00a818"/><rect x="383.75" y="617.5" width="30.51" height="20" fill="#50c410"/><rect x="414.26" y="617.5" width="30.51" height="20" fill="#a8e008"/><rect x="444.77" y="617.5" width="30.51" height="20" fill="#f8f800"/><rect x="475.28" y="617.5" width="30.51" height="20" fill="#ffb400"/><rect x="505.78" y="617.5" width="30.51" height="20" fill="#ff5c00"/><rect x="536.29" y="617.5" width="30.51" height="20" fill="#ff0000"/></g>
<text id="cbt" x="368.2" y="610.6" font-size="17.2" text-anchor="middle" xml:space="preserve">Extinction IFA  (1/Mm)</text>
<g font-size="16.3" text-anchor="middle" id="cbl"><text x="200.7" y="664.6">2</text><text x="261.7" y="664.6">10</text><text x="322.7" y="664.6">50</text><text x="383.8" y="664.6">200</text><text x="444.8" y="664.6">400</text><text x="505.8" y="664.6">600</text></g>
</svg>
</body>
</html>
